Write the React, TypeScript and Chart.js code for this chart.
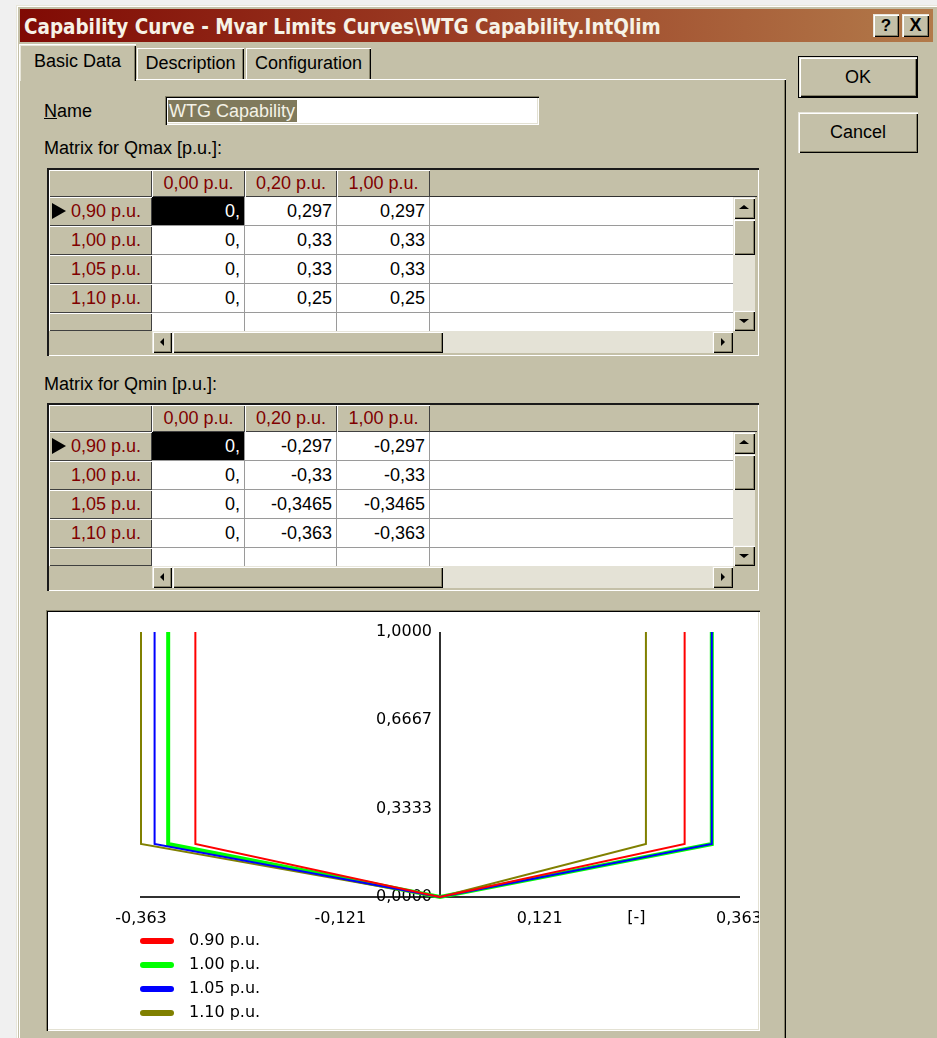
import React, { useEffect, useRef } from "react";
import { Chart, registerables } from "chart.js";

Chart.register(...registerables);

// ---------------- data ----------------
const activePower = [0, 0.2, 1.0];
const activePowerLabels = ["0,00 p.u.", "0,20 p.u.", "1,00 p.u."];
const voltageLabels = ["0,90 p.u.", "1,00 p.u.", "1,05 p.u.", "1,10 p.u."];
const legendLabels = ["0.90 p.u.", "1.00 p.u.", "1.05 p.u.", "1.10 p.u."];

const qmaxV090 = [0, 0.297, 0.297];
const qmaxV100 = [0, 0.33, 0.33];
const qmaxV105 = [0, 0.33, 0.33];
const qmaxV110 = [0, 0.25, 0.25];

const qminV090 = [0, -0.297, -0.297];
const qminV100 = [0, -0.33, -0.33];
const qminV105 = [0, -0.3465, -0.3465];
const qminV110 = [0, -0.363, -0.363];

const xTickValues = [-0.363, -0.121, 0.121, 0.363];
const xTickLabels = ["-0,363", "-0,121", "0,121", "0,363"];
const yTickValues = [0, 0.3333, 0.6667, 1];
const yTickLabels = ["0,0000", "0,3333", "0,6667", "1,0000"];
const xUnitLabel = "[-]";

const qmaxRows = [qmaxV090, qmaxV100, qmaxV105, qmaxV110];
const qminRows = [qminV090, qminV100, qminV105, qminV110];

// ---------------- styles ----------------
const seriesColors = ["#ff0000", "#00ff00", "#0000ff", "#808000"];
const FACE = "#c4c0a8";
const TRACK = "#e4e2d6";
const RAISED = "inset 1px 1px #ffffff, inset -1px -1px #404040";
const BUTTON =
  "inset 1px 1px #e8e6dc, inset 2px 2px #ffffff, inset -1px -1px #000000, inset -2px -2px #858168";
const SUNKEN =
  "inset 1px 1px #858168, inset 2px 2px #000000, inset -1px -1px #ffffff, inset -2px -2px #e3e1d3";
const CHART_FONT = '16px "DejaVu Sans"';

const fmt = (v: number) => (v === 0 ? "0," : String(v).replace(".", ","));

const curve = (qmin: number[], qmax: number[]) => [
  ...activePower.map((p, i) => ({ x: qmin[i], y: p })).reverse(),
  ...activePower.map((p, i) => ({ x: qmax[i], y: p })).slice(1),
];

type BP = {
  l: number;
  t: number;
  w: number;
  h: number;
  style?: React.CSSProperties;
  children?: React.ReactNode;
};
const B = ({ l, t, w, h, style, children }: BP) => (
  <div
    style={{
      position: "absolute",
      left: l,
      top: t,
      width: w,
      height: h,
      boxSizing: "border-box",
      whiteSpace: "nowrap",
      ...style,
    }}
  >
    {children}
  </div>
);

const Arrow = ({ dir }: { dir: "l" | "r" | "u" | "d" }) => {
  const s: React.CSSProperties = { position: "absolute", width: 0, height: 0, left: "50%", top: "50%" };
  if (dir === "l")
    Object.assign(s, { borderRight: "4px solid #000", borderTop: "4px solid transparent", borderBottom: "4px solid transparent", marginLeft: -2, marginTop: -4 });
  if (dir === "r")
    Object.assign(s, { borderLeft: "4px solid #000", borderTop: "4px solid transparent", borderBottom: "4px solid transparent", marginLeft: -2, marginTop: -4 });
  if (dir === "u")
    Object.assign(s, { borderBottom: "4px solid #000", borderLeft: "5px solid transparent", borderRight: "5px solid transparent", marginLeft: -5, marginTop: -3 });
  if (dir === "d")
    Object.assign(s, { borderTop: "4px solid #000", borderLeft: "5px solid transparent", borderRight: "5px solid transparent", marginLeft: -5, marginTop: -2 });
  return <div style={s} />;
};

function Grid({ top, rows }: { top: number; rows: number[][] }) {
  const T0 = top;
  const colL = [152, 245, 337];
  const colR = [244, 336, 429];
  const rowT = [0, 1, 2, 3, 4].map((i) => T0 + 29 + i * 29);
  const out: React.ReactNode[] = [];
  out.push(
    <B key="frame" l={47} t={T0} w={712} h={188} style={{ background: FACE, boxShadow: "inset 2px 2px #1a1a1a, inset -1px -1px #ffffff" }} />
  );
  out.push(<B key="hc" l={49} t={T0 + 2} w={103} h={27} style={{ background: FACE, boxShadow: RAISED }} />);
  colL.forEach((l, j) =>
    out.push(
      <B
        key={"ch" + j}
        l={l}
        t={T0 + 2}
        w={colR[j] - l + 1}
        h={27}
        style={{ background: FACE, boxShadow: RAISED, color: "#800000", textAlign: "center", lineHeight: "27px" }}
      >
        {activePowerLabels[j]}
      </B>
    )
  );
  out.push(<B key="hl" l={430} t={T0 + 28} w={327} h={1} style={{ background: "#303030" }} />);
  out.push(<B key="white" l={152} t={T0 + 29} w={581} h={134} style={{ background: "#fff" }} />);
  rows.forEach((r, i) => {
    out.push(
      <B
        key={"rh" + i}
        l={49}
        t={rowT[i]}
        w={103}
        h={29}
        style={{ background: FACE, boxShadow: RAISED, color: "#800000", textAlign: "right", paddingRight: 11, lineHeight: "28px" }}
      >
        {voltageLabels[i]}
      </B>
    );
    r.forEach((v, j) =>
      out.push(
        <B
          key={"c" + i + "-" + j}
          l={colL[j]}
          t={rowT[i]}
          w={colR[j] - colL[j] + 1}
          h={29}
          style={{
            borderRight: "1px solid #9a9a9a",
            borderBottom: "1px solid #9a9a9a",
            textAlign: "right",
            paddingRight: 4,
            lineHeight: "28px",
            background: i === 0 && j === 0 ? "#000" : "#fff",
            color: i === 0 && j === 0 ? "#fff" : "#000",
          }}
        >
          {fmt(v)}
        </B>
      )
    );
    out.push(<B key={"gl" + i} l={430} t={rowT[i] + 28} w={303} h={1} style={{ background: "#9a9a9a" }} />);
  });
  // partial empty row
  out.push(<B key="rh5" l={49} t={rowT[4]} w={103} h={18} style={{ background: FACE, boxShadow: RAISED }} />);
  colL.forEach((l, j) =>
    out.push(<B key={"vl5" + j} l={colR[j]} t={rowT[4]} w={1} h={18} style={{ background: "#9a9a9a" }} />)
  );
  // marker triangle
  out.push(
    <div
      key="mark"
      style={{
        position: "absolute",
        left: 52,
        top: rowT[0] + 6,
        width: 0,
        height: 0,
        borderLeft: "14px solid #000",
        borderTop: "8px solid transparent",
        borderBottom: "8px solid transparent",
      }}
    />
  );
  // horizontal scrollbar
  const hy = T0 + 163;
  out.push(<B key="hsl" l={152} t={hy} w={20} h={22} style={{ background: FACE, boxShadow: BUTTON }}><Arrow dir="l" /></B>);
  out.push(<B key="hst" l={172} t={hy} w={271} h={22} style={{ background: FACE, boxShadow: BUTTON }} />);
  out.push(<B key="hstr" l={443} t={hy} w={269} h={22} style={{ background: TRACK }} />);
  out.push(<B key="hsr" l={712} t={hy} w={21} h={22} style={{ background: FACE, boxShadow: BUTTON }}><Arrow dir="r" /></B>);
  // vertical scrollbar
  out.push(<B key="vsu" l={733} t={T0 + 29} w={22} h={22} style={{ background: FACE, boxShadow: BUTTON }}><Arrow dir="u" /></B>);
  out.push(<B key="vst" l={733} t={T0 + 51} w={22} h={36} style={{ background: FACE, boxShadow: BUTTON }} />);
  out.push(<B key="vstr" l={733} t={T0 + 87} w={22} h={55} style={{ background: TRACK }} />);
  out.push(<B key="vsd" l={733} t={T0 + 142} w={22} h={21} style={{ background: FACE, boxShadow: BUTTON }}><Arrow dir="d" /></B>);
  return <>{out}</>;
}

function CapabilityChart() {
  const ref = useRef<HTMLCanvasElement>(null);
  useEffect(() => {
    const canvas = ref.current;
    if (!canvas) return;
    const centerAxisPlugin = {
      id: "centerAxis",
      beforeDatasetsDraw(chart: any) {
        const { ctx, chartArea, scales } = chart;
        const xs = scales.x;
        const ys = scales.y;
        const x0 = xs.getPixelForValue(0);
        ctx.save();
        ctx.font = CHART_FONT;
        ctx.fillStyle = "#000";
        ctx.textAlign = "right";
        ctx.textBaseline = "middle";
        yTickValues.forEach((v, i) => ctx.fillText(yTickLabels[i], x0 - 8, ys.getPixelForValue(v)));
        ctx.strokeStyle = "#303030";
        ctx.lineWidth = 2;
        ctx.beginPath();
        ctx.moveTo(x0, ys.getPixelForValue(1));
        ctx.lineTo(x0, ys.getPixelForValue(0));
        ctx.stroke();
        ctx.textAlign = "center";
        const n = xTickValues.length;
        ctx.fillText(
          xUnitLabel,
          xs.getPixelForValue((xTickValues[n - 2] + xTickValues[n - 1]) / 2) - 3,
          chartArea.bottom + 21
        );
        ctx.restore();
      },
    };
    const legendPlugin = {
      id: "stackedLegend",
      afterDraw(chart: any) {
        const { ctx, chartArea } = chart;
        ctx.save();
        chart.data.datasets.forEach((ds: any, i: number) => {
          const y = chartArea.bottom + 44 + i * 24;
          ctx.strokeStyle = ds.borderColor;
          ctx.lineWidth = 6;
          ctx.lineCap = "round";
          ctx.beginPath();
          ctx.moveTo(chartArea.left + 2, y);
          ctx.lineTo(chartArea.left + 30, y);
          ctx.stroke();
          ctx.font = CHART_FONT;
          ctx.fillStyle = "#000";
          ctx.textAlign = "left";
          ctx.textBaseline = "middle";
          ctx.fillText(ds.label, chartArea.left + 48, y);
        });
        ctx.restore();
      },
    };
    const chart = new Chart(canvas, {
      type: "scatter",
      data: {
        datasets: legendLabels.map((lab, i) => ({
          label: lab,
          data: curve(qminRows[i], qmaxRows[i]),
          borderColor: seriesColors[i],
          backgroundColor: seriesColors[i],
          borderWidth: i === 1 ? 4 : 2,
          showLine: true,
          pointRadius: 0,
          pointHoverRadius: 0,
          tension: 0,
          fill: false,
          clip: false,
          order: i === 1 ? 1 : 0,
        })),
      },
      options: {
        animation: false,
        responsive: false,
        maintainAspectRatio: false,
        events: [],
        layout: { padding: { left: 93, right: 69, top: 20, bottom: 0 } },
        plugins: { legend: { display: false }, tooltip: { enabled: false } },
        scales: {
          x: {
            type: "linear",
            position: "bottom",
            min: -0.363,
            max: 0.363,
            afterBuildTicks: (s: any) => {
              s.ticks = xTickValues.map((v) => ({ value: v }));
            },
            afterFit: (s: any) => {
              s.height = 131;
            },
            grid: { display: false, drawTicks: false },
            border: { display: true, color: "#303030", width: 2 },
            ticks: {
              padding: 12,
              color: "#000",
              autoSkip: false,
              maxRotation: 0,
              font: { family: "DejaVu Sans", size: 16 },
              callback: (v: any) => xTickLabels[xTickValues.indexOf(Number(v))] ?? "",
            },
          },
          y: { type: "linear", min: 0, max: 1, display: false },
        },
      } as any,
      plugins: [centerAxisPlugin, legendPlugin],
    });
    return () => chart.destroy();
  }, []);
  return <canvas ref={ref} width={760} height={416} style={{ display: "block" }} />;
}

export default function App() {
  return (
    <div
      style={{
        position: "absolute",
        left: 0,
        top: 0,
        width: 937,
        height: 1038,
        overflow: "hidden",
        background: "#f0f0f0",
        fontFamily: '"Liberation Sans", Arial, sans-serif',
        fontSize: 18,
        color: "#000",
      }}
    >
      {/* dialog */}
      <B l={16} t={5} w={930} h={1050} style={{ background: FACE, boxShadow: "inset 1px 1px #e8e6da, inset 2px 2px #ffffff" }} />
      {/* title bar */}
      <B l={20} t={9} w={913} h={33} style={{ background: "linear-gradient(90deg, #800a04 0%, #9a3a22 45%, #b27a4a 100%)" }} />
      <B l={24} t={9} w={760} h={35} style={{ color: "#f6f2e6", fontFamily: '"DejaVu Sans", sans-serif', fontWeight: "bold", fontSize: 21.5, lineHeight: "35px" }}>
        <span style={{ display: "inline-block", transform: "scaleX(0.855)", transformOrigin: "left center" }}>
          Capability Curve - Mvar Limits Curves\WTG Capability.IntQlim
        </span>
      </B>
      <B l={873} t={14} w={26} h={23} style={{ background: FACE, boxShadow: BUTTON, textAlign: "center", lineHeight: "23px", fontWeight: "bold", fontSize: 17 }}>?</B>
      <B l={902} t={14} w={27} h={23} style={{ background: FACE, boxShadow: BUTTON, textAlign: "center", lineHeight: "23px", fontWeight: "bold", fontSize: 18 }}>X</B>

      {/* tab panel */}
      <B l={19} t={79} w={767} h={980} style={{ background: FACE, boxShadow: "inset 1px 1px #ffffff, inset -1px -1px #000000, inset -2px -2px #858168" }} />
      <B l={137} t={48} w={107} h={31} style={{ background: FACE, boxShadow: "inset 1px 1px #ffffff, inset -1px 0 #000000, inset -2px 0 #858168", textAlign: "center", lineHeight: "31px" }}>Description</B>
      <B l={246} t={48} w={125} h={31} style={{ background: FACE, boxShadow: "inset 1px 1px #ffffff, inset -1px 0 #000000, inset -2px 0 #858168", textAlign: "center", lineHeight: "31px" }}>Configuration</B>
      <B l={19} t={44} w={117} h={37} style={{ background: FACE, boxShadow: "inset 1px 1px #ffffff, inset 2px 2px #e8e6da, inset -1px 0 #000000, inset -2px 0 #858168", textAlign: "center", lineHeight: "34px" }}>Basic Data</B>

      {/* name */}
      <B l={44} t={100} w={100} h={22} style={{ lineHeight: "22px" }}>
        <span style={{ textDecoration: "underline" }}>N</span>ame
      </B>
      <B l={165} t={96} w={374} h={29} style={{ background: "#fff", boxShadow: SUNKEN }} />
      <B l={168} t={100} w={129} h={22} style={{ background: "#807a5c", color: "#f4f2e6", lineHeight: "22px", paddingLeft: 1 }}>WTG Capability</B>

      {/* Qmax */}
      <B l={44} t={137} w={300} h={22} style={{ lineHeight: "22px" }}>Matrix for Qmax [p.u.]:</B>
      <Grid top={168} rows={qmaxRows} />

      {/* Qmin */}
      <B l={44} t={373} w={300} h={22} style={{ lineHeight: "22px" }}>Matrix for Qmin [p.u.]:</B>
      <Grid top={403} rows={qminRows} />

      {/* chart panel */}
      <B l={46} t={610} w={714} h={421} style={{ background: "#fff", boxShadow: SUNKEN }} />
      <B l={48} t={612} w={711} h={416} style={{ overflow: "hidden" }}>
        <CapabilityChart />
      </B>

      {/* buttons */}
      <B l={798} t={56} w={120} h={42} style={{ background: "#000", padding: 1 }}>
        <div style={{ width: "100%", height: "100%", background: FACE, boxShadow: BUTTON, textAlign: "center", lineHeight: "40px" }}>OK</div>
      </B>
      <B l={798} t={112} w={120} h={41} style={{ background: FACE, boxShadow: BUTTON, textAlign: "center", lineHeight: "41px" }}>Cancel</B>
    </div>
  );
}
